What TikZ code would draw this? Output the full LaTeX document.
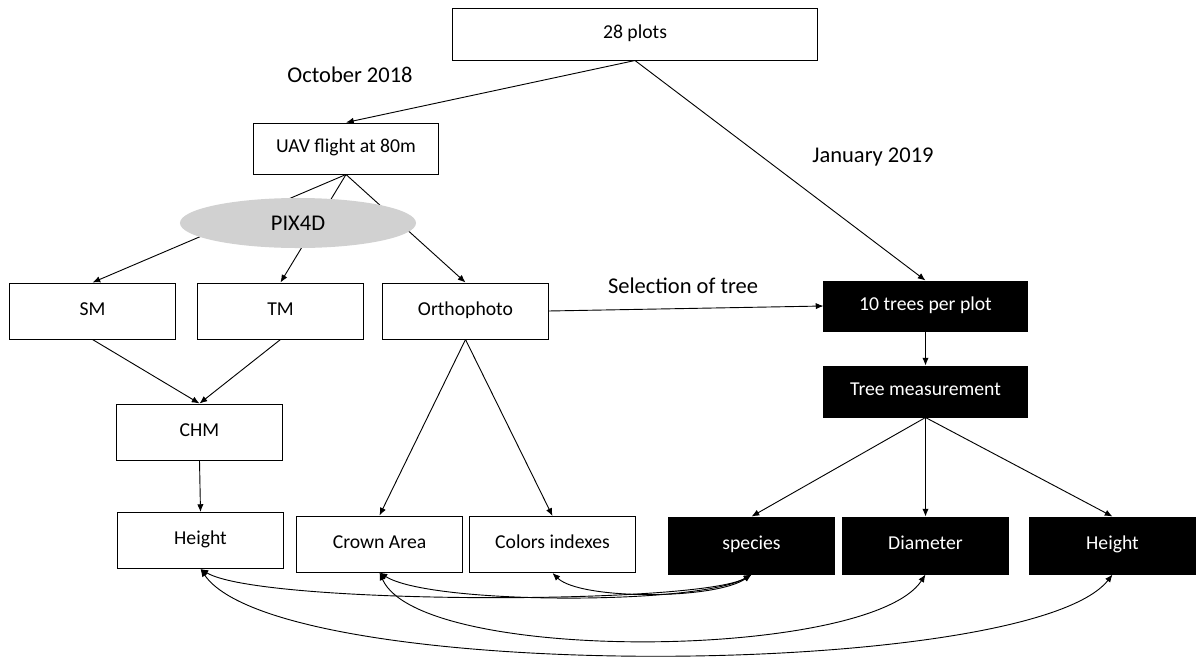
\documentclass[tikz,border=0pt]{standalone}
\usepackage{fontspec}
\setmainfont{Carlito}
\usetikzlibrary{arrows.meta,shapes.geometric}
\tikzset{
% Two box styles: hollow for the UAV side, solid for the field side
hollow box/.style={rectangle,draw,line width=0.7pt,fill=white,minimum width=4.125cm,minimum height=1.4cm,text height=1.6ex,text depth=0.4ex,font=\fontsize{14}{16}\selectfont},
solid box/.style={rectangle,draw,line width=0.7pt,fill=black,text=white,minimum width=4.125cm,minimum height=1.425cm,text height=1.6ex,text depth=0.4ex,font=\fontsize{14}{16}\selectfont},
soft ellipse/.style={ellipse,fill=black!18,minimum width=5.9cm,minimum height=1.25cm,font=\fontsize{16}{18}\selectfont},
tag/.style={font=\fontsize{16}{18}\selectfont},
link/.style={-{Latex[length=5.5pt,width=4.5pt]},line width=0.65pt},
twin link/.style={{Latex[length=5.5pt,width=4.5pt]}-{Latex[length=5.5pt,width=4.5pt]},line width=0.65pt}
}

\begin{document}
\begin{tikzpicture}[x=0.025cm,y=-0.025cm]
      \useasboundingbox (0,0) rectangle (1198,659);
      % Top box and the two dates
      \node(plots)[hollow box,minimum width=9.1cm,minimum height=1.3cm] at (635,34) {28 plots};
      \node(oct)[tag] at (350,75) {October 2018};
      \node(jan)[tag] at (873,157) {January 2019};
      % UAV side
      \node(uav)[hollow box,minimum width=4.6cm,minimum height=1.275cm] at (346,148.5) {UAV flight at 80m};
      \node(sm)[hollow box] at (92.5,311) {SM};
      \node(tm)[hollow box] at (280.5,311) {TM};
      \node(ortho)[hollow box] at (465.5,311) {Orthophoto};
      \node(chm)[hollow box] at (199.5,432) {CHM};
      \node(hgt)[hollow box] at (200.5,540.5) {Height};
      \node(crown)[hollow box] at (379.5,544) {Crown Area};
      \node(color)[hollow box] at (552.5,544.5) {Colors indexes};
      % Field side
      \node(trees)[solid box,minimum width=5.075cm,minimum height=1.25cm] at (925.5,306) {10 trees per plot};
      \node(meas)[solid box,minimum width=5.075cm,minimum height=1.275cm] at (925.5,391.5) {Tree measurement};
      \node(spec)[solid box] at (751.5,545.5) {species};
      \node(diam)[solid box] at (925.5,545.5) {Diameter};
      \node(thgt)[solid box] at (1112.5,545.5) {Height};
      % Arrows down the tree
      \draw[link] (plots.south) -- (uav.north);
      \draw[link] (plots.south) -- (trees.north);
      \draw[link] (uav.south) -- (sm.north);
      \draw[link] (uav.south) -- (tm.north);
      \draw[link] (uav.south) -- (ortho.north);
      % PIX4D lies over the three lines
      \node(pix)[soft ellipse] at (298,223) {PIX4D};
      \draw[link] (sm.south) -- (chm.north);
      \draw[link] (tm.south) -- (chm.north);
      \draw[link] (chm.south) -- (hgt.north);
      \draw[link] (ortho.south) -- (crown.north);
      \draw[link] (ortho.south) -- (color.north);
      \draw[link] (ortho.east) -- (trees.west);
      \node(sel)[tag] at (683,286) {Selection of tree};
      \draw[link] (trees.south) -- (meas.north);
      \draw[link] (meas.south) -- (spec.north);
      \draw[link] (meas.south) -- (diam.north);
      \draw[link] (meas.south) -- (thgt.north);
      % Comparisons between the two sides
      \draw[twin link] (hgt.south) .. controls (260,605) and (700,605) .. (spec.south);
      \draw[twin link] (crown.south) .. controls (430,605) and (700,605) .. (spec.south);
      \draw[twin link] (color.south) .. controls (580,600) and (715,600) .. (spec.south);
      \draw[twin link] (crown.south) .. controls (420,665) and (870,660) .. (diam.south);
      \draw[twin link] (hgt.south) .. controls (280,685) and (1030,680) .. (thgt.south);
\end{tikzpicture}
\end{document}
